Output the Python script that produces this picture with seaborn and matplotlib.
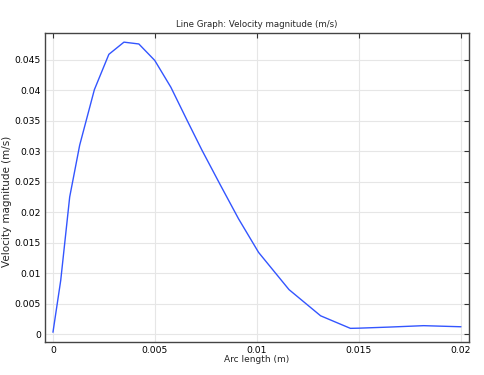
import matplotlib
matplotlib.use("Agg")
import matplotlib.pyplot as plt
import pandas as pd
import seaborn as sns

# arc length (m) and velocity magnitude (m/s)
arc_length = [0, 0.00038, 0.00082, 0.00131, 0.00203, 0.00274, 0.00348, 0.00421,
              0.00499, 0.00578, 0.0066, 0.0073, 0.0082, 0.0091, 0.01008, 0.01157,
              0.01312, 0.01458, 0.015, 0.0165, 0.01817, 0.02]
velocity = [0.0003, 0.0088, 0.0225, 0.031, 0.0401, 0.0459, 0.0479, 0.0476,
            0.0449, 0.0405, 0.0349, 0.0302, 0.0245, 0.0189, 0.0134, 0.0073,
            0.0030, 0.00094, 0.00097, 0.00115, 0.00138, 0.0012]
x_ticks = [0, 0.005, 0.01, 0.015, 0.02]
x_labels = ["0", "0.005", "0.01", "0.015", "0.02"]
y_ticks = [0, 0.005, 0.01, 0.015, 0.02, 0.025, 0.03, 0.035, 0.04, 0.045]
y_labels = ["0", "0.005", "0.01", "0.015", "0.02", "0.025", "0.03", "0.035", "0.04", "0.045"]

df = pd.DataFrame({"Arc length (m)": arc_length, "Velocity magnitude (m/s)": velocity})

sns.set_style("white")
plt.rcParams['font.family'] = ['DejaVu Sans']

fig = plt.figure(figsize=(4.85, 3.75), dpi=100)
ax = fig.add_axes([0.0928, 0.088, 0.874, 0.824])

sns.lineplot(data=df, x="Arc length (m)", y="Velocity magnitude (m/s)", ax=ax,
             color="#3355ff", linewidth=1.0, estimator=None, sort=False)

ax.set_xlim(-0.00039, 0.02039)
ax.set_ylim(-0.0013, 0.0494)
ax.set_xticks(x_ticks)
ax.set_xticklabels(x_labels)
ax.set_yticks(y_ticks)
ax.set_yticklabels(y_labels)
ax.grid(True, color="#e6e6e6", linewidth=0.8)
ax.set_axisbelow(True)

ax.tick_params(direction="in", length=3.5, width=0.8, labelsize=6.7, colors="#333333",
               top=True, right=True, labelcolor="black", pad=3)
for s in ax.spines.values():
    s.set_color("#444444")
    s.set_linewidth(1.0)

ax.set_title("Line Graph: Velocity magnitude (m/s)", fontsize=6.2, pad=4)
ax.set_xlabel("Arc length (m)", fontsize=6.5, labelpad=0)
ax.set_ylabel("Velocity magnitude (m/s)", fontsize=7.5)
ax.yaxis.set_label_coords(-0.078, 0.456)

fig.savefig("out.png", dpi=100)
